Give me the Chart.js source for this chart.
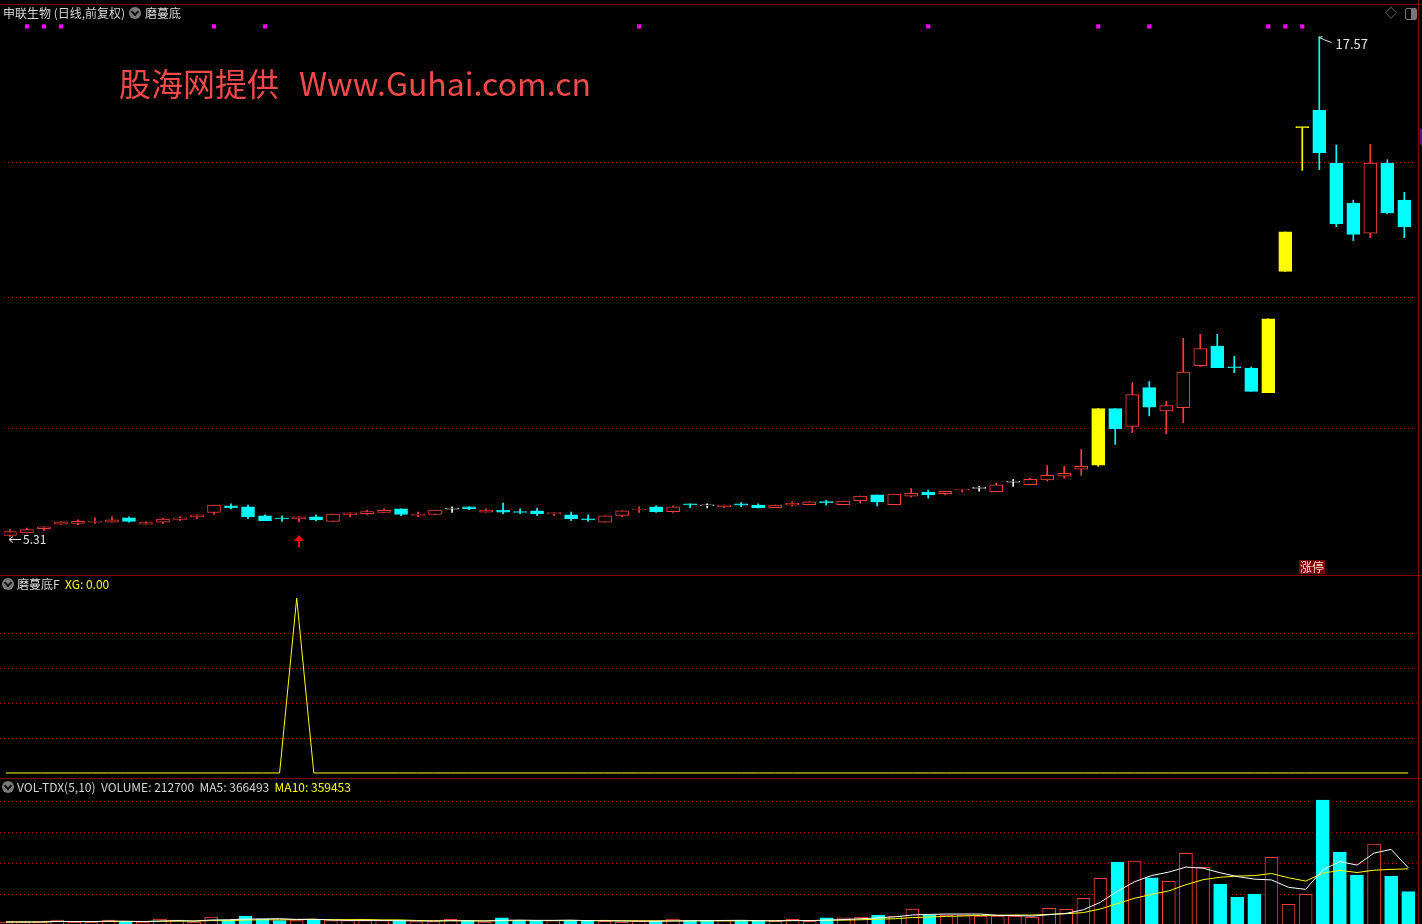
<!DOCTYPE html>
<html>
<head>
<meta charset="utf-8">
<script src="https://cdn.jsdelivr.net/npm/chart.js@4.4.1/dist/chart.umd.min.js"></script>
<style>
body{margin:0;background:#000;width:1422px;height:924px;overflow:hidden;position:relative;font-family:"Noto Sans CJK SC","Noto Sans",sans-serif;}
canvas{position:absolute;left:0;}
.t{position:absolute;font-size:12px;line-height:14px;color:#d6d6d6;white-space:pre;}
.y{color:#ffff00;}
.hl{position:absolute;left:0;width:1422px;height:1px;background:#840000;}
.ico{position:absolute;width:12px;height:12px;border-radius:50%;background:#7a7a7a;}
.ico:after{content:"";position:absolute;left:3px;top:2px;width:4px;height:4px;border-right:2px solid #111;border-bottom:2px solid #111;transform:rotate(45deg);}
</style>
</head>
<body>
<canvas id="priceChart" width="1418" height="576" style="top:0"></canvas>
<canvas id="xgChart" width="1418" height="202" style="top:576px"></canvas>
<canvas id="volChart" width="1418" height="146" style="top:778px"></canvas>

<div class="hl" style="top:4px"></div>
<div class="hl" style="top:575px"></div>
<div class="hl" style="top:778px"></div>
<div style="position:absolute;left:1418px;top:0;width:1px;height:924px;background:#840000"></div>
<div style="position:absolute;left:1420px;top:129px;width:2px;height:16px;background:#4a1a8a"></div>

<div class="t" style="left:3px;top:6px">申联生物 (日线,前复权)</div>
<div class="ico" style="left:129px;top:7px"></div>
<div class="t" style="left:145px;top:6px">磨蔓底</div>
<div class="t" style="left:1385px;top:6px;color:#888">◇</div>
<div style="position:absolute;left:1405px;top:8px;width:10px;height:10px;border:1px solid #777;border-radius:2px;background:linear-gradient(90deg,#000 50%,#777 50%)"></div>

<div style="position:absolute;left:119px;top:61px;font-size:32px;line-height:42px;color:#f24a4a;white-space:pre">股海网提供<span style="margin-left:20px">Www.Guhai.com.cn</span></div>

<div class="t" style="left:1299px;top:560px;background:#7a0000;color:#ffdada;padding:0 1px">涨停</div>

<div class="ico" style="left:2px;top:578px"></div>
<div class="t" style="left:17px;top:577px">磨蔓底F  <span class="y">XG: 0.00</span></div>

<div class="ico" style="left:2px;top:781px"></div>
<div class="t" style="left:17px;top:780px">VOL-TDX(5,10)  VOLUME: 212700  MA5: 366493  <span class="y">MA10: 359453</span></div>

<script>
// daily candles, index 0 = oldest day on screen
const opens  = [5.34,5.40,5.50,5.61,5.63,5.66,5.66,5.77,5.61,5.66,5.73,5.79,5.90,6.06,6.04,5.82,5.745,5.74,5.79,5.68,
                5.84,5.87,5.90,5.99,5.83,5.85,5.98,6.04,5.91,5.96,5.91,5.94,5.87,5.84,5.74,5.66,5.83,5.96,6.04,5.92,
                6.11,6.06,6.04,6.11,6.08,6.02,6.08,6.09,6.15,6.09,6.19,6.33,6.09,6.30,6.40,6.36,6.45,6.49,6.41,6.64,
                6.58,6.70,6.79,6.96,7.06,8.45,8.01,8.96,8.39,8.47,9.50,9.98,9.47,9.44,8.84,11.81,15.34,15.76,14.47,13.48,
                12.75,14.47,13.56];
const highs  = [5.48,5.52,5.55,5.67,5.72,5.77,5.79,5.79,5.67,5.76,5.79,5.84,6.08,6.11,6.08,5.84,5.82,5.79,5.84,5.86,
                5.89,5.95,5.99,5.99,5.91,5.96,6.04,6.04,5.99,6.13,5.99,6.01,5.89,5.91,5.84,5.82,5.94,6.04,6.06,6.06,
                6.11,6.11,6.08,6.14,6.11,6.08,6.16,6.16,6.20,6.18,6.30,6.33,6.35,6.49,6.45,6.42,6.47,6.54,6.62,6.71,
                6.74,7.05,7.03,7.44,8.45,8.45,9.08,9.11,8.62,10.17,10.27,10.27,9.73,9.47,10.65,12.78,15.34,17.57,14.91,13.56,
                14.93,14.55,13.75];
const lows   = [5.31,5.40,5.46,5.61,5.60,5.63,5.66,5.66,5.61,5.63,5.70,5.75,5.85,5.99,5.75,5.70,5.68,5.67,5.69,5.68,
                5.79,5.85,5.90,5.82,5.80,5.85,5.90,5.97,5.91,5.87,5.87,5.82,5.82,5.70,5.68,5.66,5.80,5.90,5.90,5.90,
                6.02,6.01,6.01,6.04,6.01,6.02,6.06,6.09,6.08,6.09,6.13,6.06,6.09,6.28,6.25,6.33,6.40,6.42,6.41,6.54,
                6.58,6.67,6.74,6.81,7.03,7.57,7.86,8.27,7.83,8.10,9.48,9.45,9.33,8.87,8.84,11.81,14.29,14.31,12.91,12.57,
                12.64,13.22,12.64];
const closes = [5.43,5.48,5.55,5.67,5.68,5.67,5.72,5.68,5.65,5.74,5.77,5.84,6.08,6.01,5.79,5.70,5.74,5.79,5.72,5.86,
                5.89,5.92,5.95,5.85,5.84,5.96,5.98,5.99,5.96,5.91,5.90,5.87,5.89,5.75,5.72,5.82,5.94,5.97,5.92,6.04,
                6.09,6.06,6.08,6.08,6.02,6.08,6.13,6.16,6.14,6.18,6.30,6.16,6.35,6.37,6.33,6.42,6.47,6.49,6.58,6.64,
                6.71,6.81,6.86,7.03,8.45,7.95,8.79,8.48,8.52,9.34,9.92,9.45,9.45,8.87,10.65,12.78,15.34,14.72,12.98,12.72,
                14.47,13.25,12.91];
const volumes = [25000,25000,25000,37000,25000,25000,37000,25000,25000,43000,37000,25000,56000,33000,62000,43000,33000,33000,41000,33000,
                 33000,33000,33000,33000,27000,27000,41000,33000,25000,50000,33000,33000,33000,33000,33000,29000,25000,29000,29000,43000,
                 33000,33000,33000,33000,33000,29000,41000,29000,50000,50000,56000,68000,62000,105000,68000,68000,68000,62000,62000,62000,
                 54000,110000,104000,172000,296000,397000,403000,298000,277000,451000,364000,260000,180000,198000,426000,135000,197000,781000,459000,316000,
                 508000,310000,212700];
const xgSignal = [0,0,0,0,0,0,0,0,0,0,0,0,0,0,0,0,0,1,0,0,
                  0,0,0,0,0,0,0,0,0,0,0,0,0,0,0,0,0,0,0,0,
                  0,0,0,0,0,0,0,0,0,0,0,0,0,0,0,0,0,0,0,0,
                  0,0,0,0,0,0,0,0,0,0,0,0,0,0,0,0,0,0,0,0,
                  0,0,0];
const limitUpDays = [64,74,75,76];
const signalDays = [1,2,3,12,15,37,54,64,67,74,75,76];
const priceGrid = [7.97,11.19,14.50];
const xgGrid = [0.2,0.4,0.6,0.8];
const volGrid = [196000,388000,581000,773000];

const RED = '#ff3c3c', CYAN = '#00ffff', YELLOW = '#ffff00', WHITE = '#ffffff';
const days = opens.map((_, i) => i);

function candleColor(i) {
  if (limitUpDays.includes(i)) return YELLOW;
  if (closes[i] > opens[i]) return RED;
  if (closes[i] < opens[i]) return CYAN;
  return WHITE;
}
function volColor(i) {
  if (closes[i] > opens[i]) return RED;
  if (closes[i] < opens[i]) return CYAN;
  return (i > 0 && closes[i] < closes[i - 1]) ? CYAN : RED;
}
function movingAvg(arr, n) {
  return arr.map((_, i) => {
    const part = arr.slice(Math.max(0, i - n + 1), i + 1);
    return part.reduce((a, b) => a + b, 0) / part.length;
  });
}

Chart.defaults.animation = false;
Chart.defaults.font.family = '"Noto Sans CJK SC", "Noto Sans", sans-serif';

// dotted dark red grid lines at given values
const tdxGrid = {
  id: 'tdxGrid',
  beforeDatasetsDraw(chart, args, opts) {
    const { ctx, chartArea } = chart;
    const y = chart.scales.y;
    ctx.save();
    ctx.strokeStyle = '#8c0000';
    ctx.lineWidth = 1;
    ctx.setLineDash([1, 3]);
    (opts.values || []).forEach(v => {
      const py = Math.round(y.getPixelForValue(v)) + 0.5;
      ctx.beginPath();
      ctx.moveTo(chartArea.left, py);
      ctx.lineTo(chartArea.right, py);
      ctx.stroke();
    });
    ctx.restore();
  }
};

// low / high labels and the signal arrow
const priceMarks = {
  id: 'priceMarks',
  afterDatasetsDraw(chart) {
    const { ctx } = chart;
    const x = chart.scales.x, y = chart.scales.y;
    ctx.save();
    ctx.font = '12px "Noto Sans CJK SC", "Noto Sans", sans-serif';
    ctx.textBaseline = 'middle';
    ctx.fillStyle = '#e6e6e6';
    ctx.strokeStyle = '#e6e6e6';
    ctx.lineWidth = 1;

    const lo = lows.indexOf(Math.min(...lows));
    let px = Math.round(x.getPixelForValue(lo)), py = Math.round(y.getPixelForValue(lows[lo])) + 2.5;
    ctx.beginPath();
    ctx.moveTo(px - 1, py); ctx.lineTo(px + 11, py);
    ctx.moveTo(px - 1, py); ctx.lineTo(px + 3, py - 3);
    ctx.moveTo(px - 1, py); ctx.lineTo(px + 3, py + 3);
    ctx.stroke();
    ctx.fillText(lows[lo].toFixed(2), px + 13, py);

    const hi = highs.indexOf(Math.max(...highs));
    px = Math.round(x.getPixelForValue(hi)) + 0.5; py = Math.round(y.getPixelForValue(highs[hi])) + 0.5;
    ctx.beginPath();
    ctx.moveTo(px, py); ctx.lineTo(px + 4, py + 2); ctx.lineTo(px + 12, py + 5);
    ctx.moveTo(px, py); ctx.lineTo(px + 3, py - 1);
    ctx.stroke();
    ctx.font = '13px "Noto Sans CJK SC", "Noto Sans", sans-serif';
    ctx.fillText(highs[hi].toFixed(2), px + 16, py + 7);

    ctx.fillStyle = '#ff0000';
    xgSignal.forEach((s, i) => {
      if (!s) return;
      const ax = Math.round(x.getPixelForValue(i));
      const ay = Math.round(y.getPixelForValue(lows[i])) + 13;
      ctx.beginPath();
      ctx.moveTo(ax, ay); ctx.lineTo(ax + 5, ay + 6); ctx.lineTo(ax - 5, ay + 6);
      ctx.closePath(); ctx.fill();
      ctx.fillRect(ax - 1, ay + 5, 2, 7);
    });
    ctx.restore();
  }
};

const xAxis = { type: 'linear', min: -0.35, max: 82.57, offset: false, grid: { offset: false }, display: false };

new Chart(document.getElementById('priceChart'), {
  data: {
    datasets: [
      {
        type: 'bar', order: 1, grouped: false,
        data: days.map(i => ({ x: i, y: [lows[i], highs[i]] })),
        backgroundColor: days.map(candleColor),
        barThickness: 1, borderWidth: 0
      },
      {
        type: 'bar', order: 0, grouped: false,
        data: days.map(i => ({ x: i, y: [opens[i], closes[i]] })),
        backgroundColor: days.map(i => {
          const c = candleColor(i);
          return (c === RED || c === WHITE) ? '#000' : c;
        }),
        borderColor: days.map(candleColor),
        borderWidth: 1, borderSkipped: false, minBarLength: 1,
        barThickness: 13
      },
      {
        type: 'scatter', order: -1,
        data: signalDays.map(i => ({ x: i, y: 17.82 })),
        pointStyle: 'rect', pointRadius: 2.9, pointBorderWidth: 0,
        pointBackgroundColor: '#ff00ff'
      }
    ]
  },
  options: {
    responsive: false, devicePixelRatio: 1,
    layout: { padding: 0 },
    plugins: { legend: { display: false }, tooltip: { enabled: false }, tdxGrid: { values: priceGrid } },
    scales: { x: xAxis, y: { type: 'linear', min: 4.44, max: 18.37, display: false } }
  },
  plugins: [tdxGrid, priceMarks]
});

new Chart(document.getElementById('xgChart'), {
  type: 'line',
  data: {
    datasets: [{
      data: days.map(i => ({ x: i, y: xgSignal[i] })),
      borderColor: YELLOW, borderWidth: 1, pointRadius: 0, tension: 0
    }]
  },
  options: {
    responsive: false, devicePixelRatio: 1,
    layout: { padding: 0 },
    plugins: { legend: { display: false }, tooltip: { enabled: false }, tdxGrid: { values: xgGrid } },
    scales: { x: xAxis, y: { type: 'linear', min: -0.0286, max: 1.1257, display: false } }
  },
  plugins: [tdxGrid]
});

const ma5 = movingAvg(volumes, 5);
const ma10 = movingAvg(volumes, 10);

new Chart(document.getElementById('volChart'), {
  data: {
    datasets: [
      {
        type: 'line', order: 0,
        data: days.map(i => ({ x: i, y: ma5[i] })),
        borderColor: WHITE, borderWidth: 1, pointRadius: 0, tension: 0
      },
      {
        type: 'line', order: 0,
        data: days.map(i => ({ x: i, y: ma10[i] })),
        borderColor: YELLOW, borderWidth: 1, pointRadius: 0, tension: 0
      },
      {
        type: 'bar', order: 1, grouped: false,
        data: days.map(i => ({ x: i, y: volumes[i] })),
        backgroundColor: days.map(i => volColor(i) === RED ? '#000' : CYAN),
        borderColor: days.map(volColor),
        borderWidth: 1, borderSkipped: false, barThickness: 13
      }
    ]
  },
  options: {
    responsive: false, devicePixelRatio: 1,
    layout: { padding: 0 },
    plugins: { legend: { display: false }, tooltip: { enabled: false }, tdxGrid: { values: volGrid } },
    scales: { x: xAxis, y: { type: 'linear', min: 12400, max: 917600, display: false } }
  },
  plugins: [tdxGrid]
});
</script>
</body>
</html>
